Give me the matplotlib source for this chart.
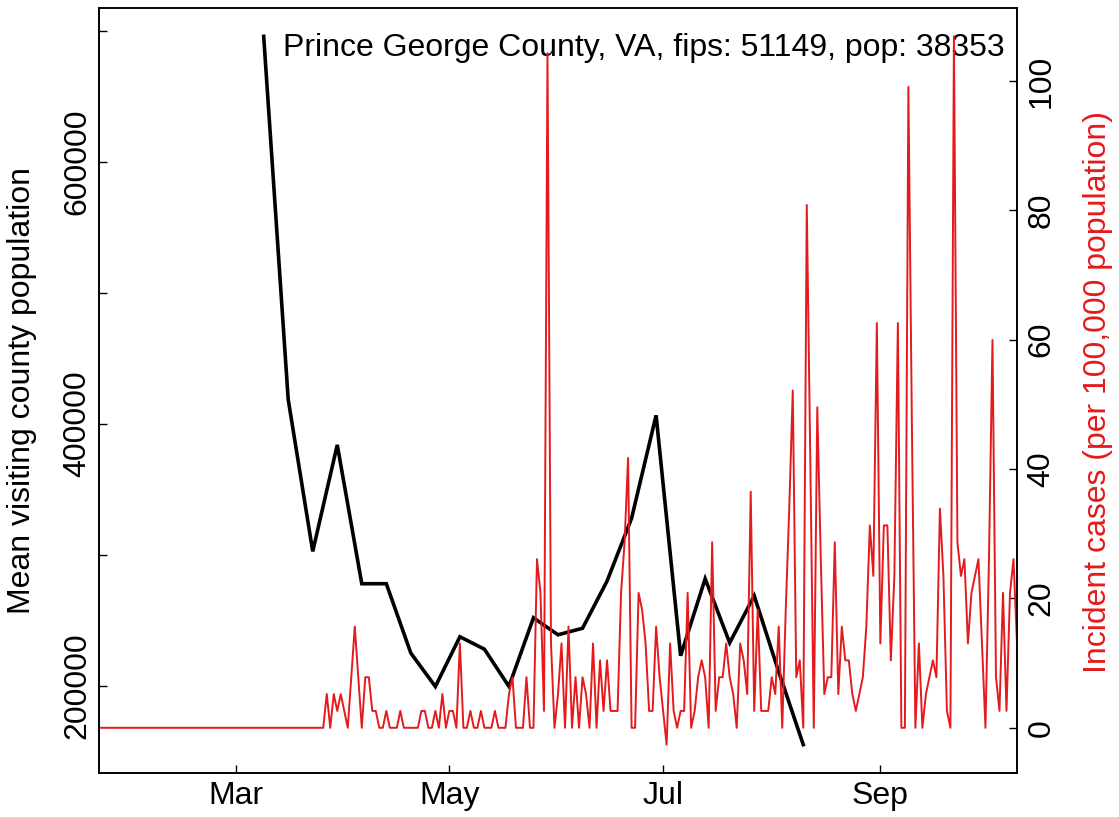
import numpy as np
import pandas as pd
import matplotlib
matplotlib.use("Agg")
import matplotlib.pyplot as plt

plt.rcParams['font.family'] = ['Liberation Sans', 'DejaVu Sans']

# ---------------- data ----------------
population = 38353
case_start = "2020-01-22"
# daily incident case counts (Jan 22 .. Oct 10, 2020)
daily_cases = [0]*65 + [
    2, 0, 2, 1, 2, 1, 0, 3, 6, 3,      # d65-74
    0, 3, 3, 1, 1, 0, 0, 1, 0, 0,      # d75-84
    0, 1, 0, 0, 0, 0, 0, 1, 1, 0,      # d85-94
    0, 1, 0, 2, 0, 1, 1, 0, 5, 0,      # d95-104
    0, 1, 0, 0, 1, 0, 0, 0, 1, 0,      # d105-114
    0, 0, 2, 3, 0, 0, 0, 3, 0, 0,      # d115-124
    10, 8, 1, 40, 5, 0, 2, 5, 0, 6,    # d125-134
    0, 3, 0, 3, 2, 0, 5, 0, 4, 1,      # d135-144
    4, 1, 1, 1, 8, 11, 16, 0, 0, 8,    # d145-154
    7, 5, 1, 1, 6, 3, 1, -1, 5, 1,     # d155-164
    0, 1, 1, 8, 0, 1, 3, 4, 3, 0,      # d165-174
    11, 1, 3, 3, 5, 3, 2, 0, 5, 4,     # d175-184
    2, 14, 1, 7, 1, 1, 1, 3, 2, 6,     # d185-194
    0, 7, 13, 20, 3, 4, 0, 31, 16, 0,  # d195-204
    19, 10, 2, 3, 3, 11, 2, 6, 4, 4,   # d205-214
    2, 1, 2, 3, 6, 12, 9, 24, 5, 12,   # d215-224
    12, 4, 9, 24, 0, 0, 38, 18, 0, 5,  # d225-234
    0, 2, 3, 4, 3, 13, 9, 1, 0, 41,    # d235-244
    11, 9, 10, 5, 8, 9, 10, 5, 0, 10,  # d245-254
    23, 3, 1, 8, 1, 8, 10, 5,          # d255-262
]

# weekly mean visiting county population (Mondays, Mar 9 .. Aug 10, 2020)
visit_start = "2020-03-09"
visitors = [696000, 418700, 302700, 384000, 278000, 278000, 225000, 199500,
            237500, 228000, 199600, 252000, 239000, 244000, 280000, 328000,
            406600, 223000, 281800, 232900, 268800, 210700, 155100]

xtick_dates = ["2020-03-01", "2020-05-01", "2020-07-01", "2020-09-01"]
xtick_labels = ["Mar", "May", "Jul", "Sep"]
left_ticks = [200000, 300000, 400000, 500000, 600000, 700000]
left_labels = ["200000", "", "400000", "", "600000", ""]
right_ticks = [0, 20, 40, 60, 80, 100]

title = f"Prince George County, VA, fips: 51149, pop: {population}"

# ---------------- derived ----------------
case_dates = pd.date_range(case_start, periods=len(daily_cases), freq="D")
incidence = np.array(daily_cases) / population * 100000
visit_dates = pd.date_range(visit_start, periods=len(visitors), freq="7D")

# ---------------- plot ----------------
W, H = 1119, 817
fig = plt.figure(figsize=(W/100, H/100), dpi=100)
L, R, T, B = 99, 1017, 8, 773
ax = fig.add_axes([L/W, 1 - B/H, (R - L)/W, (B - T)/H])

RED = '#E41A1C'
FS = 23

ax.plot(visit_dates, visitors, color='black', lw=2.6, solid_joinstyle='miter')
ax.set_xlim(case_dates[0], case_dates[-1])
ax.margins(y=0.04)
ax.set_yticks(left_ticks)
ax.set_yticklabels(left_labels, rotation=90, va='center', fontsize=FS)
ax.set_xticks(pd.to_datetime(xtick_dates))
ax.set_xticklabels(xtick_labels, fontsize=FS)
ax.tick_params(axis='both', direction='in', length=5.5, width=1.0, color='black')
ax.tick_params(axis='y', pad=4.5)
ax.tick_params(axis='x', pad=6)

ax2 = ax.twinx()
ax2.plot(case_dates, incidence, color=RED, lw=1.4)
ax2.set_xlim(case_dates[0], case_dates[-1])
ax2.margins(y=0.04)
ax2.set_yticks(right_ticks)
ax2.set_yticklabels([str(t) for t in right_ticks], rotation=90, va='center', fontsize=FS)
ax2.tick_params(axis='y', direction='in', length=5.5, width=1.0, pad=7)

for a in (ax, ax2):
    for s in a.spines.values():
        s.set_linewidth(1.2)
        s.set_color('black')

ax.text(0.987, 0.937, title, transform=ax.transAxes, ha='right', va='baseline', fontsize=FS)

fig.text(22/W, 1 - 391/H, "Mean visiting county population", rotation=90,
         ha='center', va='center', fontsize=FS)
fig.text(1098/W, 1 - 392/H, "Incident cases (per 100,000 population)", rotation=90,
         ha='center', va='center', fontsize=FS, color=RED)

fig.savefig("out.png", dpi=100)
